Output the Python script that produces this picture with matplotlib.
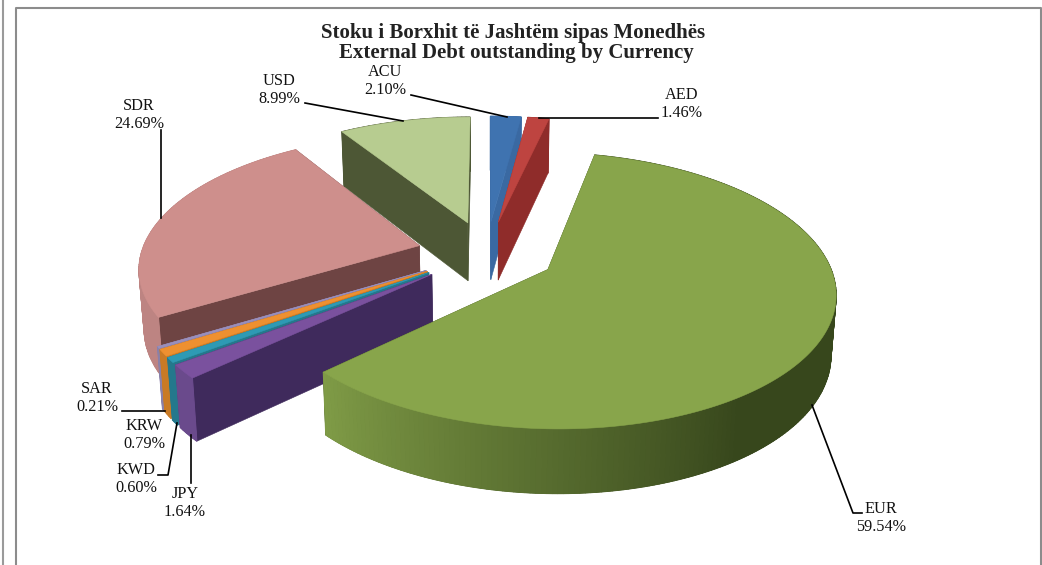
import numpy as np
import matplotlib
matplotlib.use('Agg')
import matplotlib.pyplot as plt
from matplotlib.colors import to_rgb
from matplotlib.patches import Polygon

currencies = ['ACU', 'AED', 'EUR', 'JPY', 'KWD', 'KRW', 'SAR', 'SDR', 'USD']
shares = [2.10, 1.46, 59.54, 1.64, 0.60, 0.79, 0.21, 24.69, 8.99]
share_labels = ['2.10%', '1.46%', '59.54%', '1.64%', '0.60%', '0.79%', '0.21%', '24.69%', '8.99%']

top_colors = ['#3F73B0', '#BE4440', '#88A54B', '#7A519E', '#2E9AB4', '#EE9030', '#9A8FBC', '#CE8F8C', '#B7CC90']
side_colors = ['#3A69A2', '#8F2C2A', '#37471C', '#6A4A8C', '#24788C', '#C97A25', '#8A80A8', '#BD8482', '#4D5735']
side_end_colors = ['#3A69A2', '#8F2C2A', '#7F9B46', '#6A4A8C', '#24788C', '#C97A25', '#8A80A8', '#BD8482', '#4D5735']
radial_colors = ['#3A69A2', '#8F2C2A', '#37471C', '#3F2A5C', '#24788C', '#C97A25', '#8A80A8', '#6E4443', '#4D5735']

# back to front, painter style
draw_order = ['USD', 'ACU', 'AED', 'SDR', 'SAR', 'KRW', 'KWD', 'JPY', 'EUR']

title_lines = ['Stoku i Borxhit të Jashtëm sipas Monedhës', 'External Debt outstanding by Currency']
label_pos = {'ACU': (385, 81), 'AED': (682, 104), 'EUR': (881, 518), 'JPY': (185, 503), 'KWD': (136, 479),
             'KRW': (144, 435), 'SAR': (97, 398), 'SDR': (139, 115), 'USD': (279, 90)}
leaders = [[(305, 103), (403, 121)], [(411, 95), (507, 117)], [(539, 118), (658, 118)],
           [(161, 130), (161, 218)], [(122, 411), (165, 411)],
           [(158, 475), (168, 475), (177, 423)], [(190.5, 435), (190.5, 483)],
           [(812, 405), (853, 513), (862, 513)]]

# perspective of the pie disc, in pixels
cx, cy = 486.5, 253
rx, ry = 278, 130
persp = 0.15
explode = 0.25
depth = 59


def project(u, v):
    s = 1 / (1 + persp * v)
    return cx + rx * u * s, cy - ry * v * s, s


def wall_drop(s):
    return depth * s ** 0.5


def mix(c1, c2, t):
    return tuple((1 - t) * a + t * b for a, b in zip(to_rgb(c1), to_rgb(c2)))


def draw_slice(ax, a0, a1, top, side, side_end, radial):
    mid = (a0 + a1) / 2
    ou, ov = explode * np.sin(mid), explode * np.cos(mid)
    ang = np.linspace(a0, a1, max(int((a1 - a0) * 60), 4))
    x, y, s = project(ou + np.sin(ang), ov + np.cos(ang))
    ax_, ay_, as_ = project(ou, ov)
    ybot = y + wall_drop(s)
    aybot = ay_ + wall_drop(as_)
    # bottom rim is a bit further away so pull it in
    xbot = cx + (x - cx) * 0.985
    axbot = cx + (ax_ - cx) * 0.985

    # radial faces
    for i in (0, -1):
        pts = [(ax_, ay_), (x[i], y[i]), (xbot[i], ybot[i]), (axbot, aybot)]
        ax.add_patch(Polygon(pts, facecolor=radial, edgecolor=radial, lw=0.4))

    # outer wall: solid base, then quads on top to shade along the arc
    base = list(zip(x, y)) + list(zip(xbot[::-1], ybot[::-1]))
    ax.add_patch(Polygon(base, facecolor=side, edgecolor=side, lw=0.4))
    for i in range(len(ang) - 1):
        t = np.clip((i / (len(ang) - 2) - 0.62) / 0.38, 0, 1)
        c = mix(side, side_end, t)
        pts = [(x[i], y[i]), (x[i + 1], y[i + 1]), (xbot[i + 1], ybot[i + 1]), (xbot[i], ybot[i])]
        ax.add_patch(Polygon(pts, facecolor=c, edgecolor=c, lw=0.8))

    pts = [(ax_, ay_)] + list(zip(x, y))
    ax.add_patch(Polygon(pts, facecolor=top, edgecolor=top, lw=0.4))


fig = plt.figure(figsize=(10.42, 5.65), dpi=100)
ax = fig.add_axes([0, 0, 1, 1])
ax.set_xlim(0, 1042)
ax.set_ylim(565, 0)
ax.axis('off')

plt.rcParams['font.family'] = ['Liberation Serif', 'DejaVu Serif']

# chart frame
ax.plot([2.5, 2.5], [0, 565], color='#9a9a9a', lw=1.5)
ax.plot([16, 16, 1040.5, 1040.5], [565, 8, 8, 565], color='#8c8c8c', lw=1.5)

edges = np.cumsum([0] + shares) / sum(shares) * 2 * np.pi
for name in draw_order:
    i = currencies.index(name)
    draw_slice(ax, edges[i], edges[i + 1], top_colors[i], side_colors[i], side_end_colors[i], radial_colors[i])

for line in leaders:
    xs, ys = zip(*line)
    ax.plot(xs, ys, color='black', lw=1.2, zorder=5)

for name, label in zip(currencies, share_labels):
    lx, ly = label_pos[name]
    ax.text(lx, ly, name + '\n' + label, ha='center', va='center', fontsize=11.7,
            linespacing=1.17, color='#111111', zorder=6)

ax.text(513, 33, title_lines[0], ha='center', va='center', fontsize=15, fontweight='bold', color='#222222')
ax.text(516, 53, title_lines[1], ha='center', va='center', fontsize=15, fontweight='bold', color='#222222')

fig.savefig('out.png', dpi=100)
